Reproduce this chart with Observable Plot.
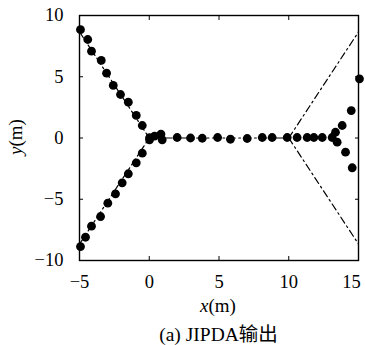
<!DOCTYPE html>
<html><head><meta charset="utf-8">
<script src="https://cdn.jsdelivr.net/npm/d3@7"></script>
<script src="https://cdn.jsdelivr.net/npm/@observablehq/plot@0.6"></script>
<style>
body{margin:0;background:#fff;overflow:hidden;}
#cap{width:279px;padding-left:79px;text-align:center;font-family:"Liberation Serif","Noto Sans CJK SC",serif;font-size:19.5px;line-height:26px;color:#000;}
</style></head><body><div id="chart"></div><div id="cap">(a) JIPDA输出</div>
<script>
const xTicks = [-5, 0, 5, 10, 15];
const yTicks = [-10, -5, 0, 5, 10];

// true tracks (dash-dot), one segment per id
const truthId = ["A","A","B","B","C","C","D","D","E","E"];
const truthX  = [-5, 0, -5, 0, 0, 10, 10, 15, 10, 15];
const truthY  = [8.66, 0, -8.66, 0, 0, 0, 0, 8.66, 0, -8.66];

// JIPDA estimates
const estX = [
  -4.93,-4.41,-4.14,-3.44,-3.06,-2.58,-2.06,-1.50,-0.93,-0.50,0.02,
  -4.93,-4.57,-4.14,-3.49,-2.97,-2.42,-1.94,-1.50,-0.93,-0.50,0.02,
  0.38,0.84,0.93,2.00,2.96,3.80,4.90,5.82,7.02,8.10,8.81,9.89,10.60,11.32,11.80,12.40,13.11,
  13.35,13.47,13.83,14.07,14.48,14.55,15.07
];
const estY = [
  8.84,8.04,7.09,6.33,5.29,4.29,3.55,2.92,1.84,1.02,0.02,
  -8.86,-8.10,-7.20,-6.41,-5.32,-4.56,-3.66,-2.92,-2.03,-1.24,-0.15,
  0.15,0.32,-0.15,0.04,0.00,-0.02,0.04,-0.10,-0.04,0.04,0.04,0.04,0.04,0.04,0.04,0.04,0.04,
  0.47,-0.34,1.02,-1.16,2.24,-2.43,4.83
];

const truth = truthX.map((x, i) => ({x, y: truthY[i], id: truthId[i]}));
const est = estX.map((x, i) => ({x, y: estY[i]}));

const W = 365, H = 322;
const plot = Plot.plot({
  width: W, height: H,
  marginLeft: 79, marginRight: 7, marginTop: 15, marginBottom: H - 260,
  style: {fontFamily: '"Liberation Serif","DejaVu Serif",serif', fontSize: "18px", color: "#000", background: "#fff", overflow: "visible"},
  x: {domain: [-5, 15]},
  y: {domain: [-10, 10]},
  marks: [
    Plot.line(truth, {x: "x", y: "y", z: "id", stroke: "black", strokeWidth: 1.2, strokeDasharray: "7,3.5,1.8,3.5"}),
    Plot.dot(est, {x: "x", y: "y", r: 4.4, fill: "black", stroke: "none"}),
    Plot.axisX({anchor: "bottom", ticks: xTicks, tickSize: -4, tickPadding: 18, label: null, fontSize: 18.5}),
    Plot.axisX({anchor: "top", ticks: xTicks, tickSize: -4, tickFormat: () => "", label: null}),
    Plot.axisY({anchor: "left", ticks: yTicks, tickSize: -4, tickPadding: 20, label: null, fontSize: 18.5}),
    Plot.axisY({anchor: "right", ticks: yTicks, tickSize: -4, tickFormat: () => "", label: null}),
    Plot.frame({stroke: "black", strokeWidth: 1.4})
  ]
});
document.getElementById("chart").appendChild(plot);

const svg = d3.select(plot);
// keep the last x tick label inside the window, as in the reference
svg.selectAll("text").filter(function() { return this.textContent === "15"; }).attr("dx", -7);

const xl = svg.append("text").attr("x", 218).attr("y", 312).attr("text-anchor", "middle")
  .attr("font-family", '"Liberation Serif",serif').attr("font-size", 19).attr("fill", "#000");
xl.append("tspan").attr("font-style", "italic").text("x");
xl.append("tspan").text("(m)");
const yl = svg.append("text").attr("transform", "translate(22,137) rotate(-90)").attr("text-anchor", "middle")
  .attr("font-family", '"Liberation Serif",serif').attr("font-size", 19).attr("fill", "#000");
yl.append("tspan").attr("font-style", "italic").text("y");
yl.append("tspan").text("(m)");
</script>
</body></html>
